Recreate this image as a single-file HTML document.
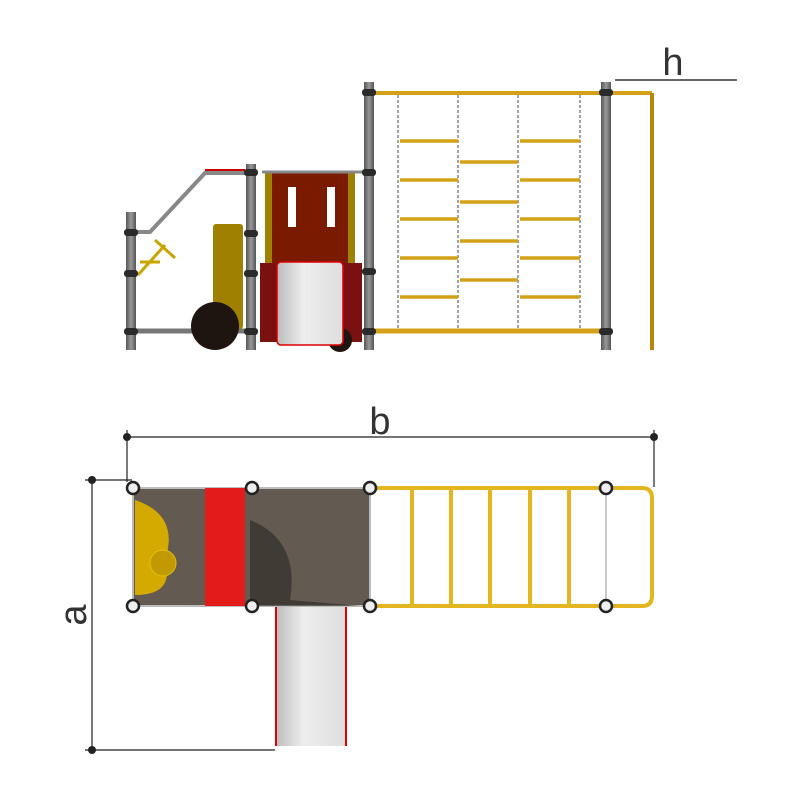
<!DOCTYPE html>
<html><head><meta charset="utf-8"><style>body{margin:0;background:#fff}svg{display:block}</style></head><body>
<svg width="800" height="800" viewBox="0 0 800 800" xmlns="http://www.w3.org/2000/svg" font-family="Liberation Sans, sans-serif">
<defs>
<linearGradient id="post" x1="0" x2="1"><stop offset="0" stop-color="#555"/><stop offset=".5" stop-color="#999"/><stop offset="1" stop-color="#555"/></linearGradient>
<linearGradient id="slide" x1="0" x2="1"><stop offset="0" stop-color="#bbb"/><stop offset=".4" stop-color="#eee"/><stop offset="1" stop-color="#ddd"/></linearGradient>
</defs>
<!-- TOP VIEW -->
<line x1="615" y1="80" x2="737" y2="80" stroke="#333" stroke-width="1.5"/>
<text x="673" y="75" font-size="38" text-anchor="middle" fill="#333">h</text>
<!-- right frame -->
<line x1="370" y1="93" x2="652" y2="93" stroke="#d4a017" stroke-width="4"/>
<line x1="652" y1="93" x2="652" y2="350" stroke="#b8860b" stroke-width="4"/>
<line x1="375" y1="331" x2="606" y2="331" stroke="#d4a017" stroke-width="5"/>
<g stroke="#444" stroke-width="1" stroke-dasharray="3,2">
<line x1="398" y1="95" x2="398" y2="330"/><line x1="458" y1="95" x2="458" y2="330"/><line x1="518" y1="95" x2="518" y2="330"/><line x1="580" y1="95" x2="580" y2="330"/></g>
<g stroke="#d4a017" stroke-width="3.5">
<line x1="400" y1="141" x2="458" y2="141"/><line x1="400" y1="180" x2="458" y2="180"/><line x1="400" y1="219" x2="458" y2="219"/><line x1="400" y1="258" x2="458" y2="258"/><line x1="400" y1="297" x2="458" y2="297"/>
<line x1="460" y1="162" x2="518" y2="162"/><line x1="460" y1="202" x2="518" y2="202"/><line x1="460" y1="241" x2="518" y2="241"/><line x1="460" y1="280" x2="518" y2="280"/>
<line x1="520" y1="141" x2="580" y2="141"/><line x1="520" y1="180" x2="580" y2="180"/><line x1="520" y1="219" x2="580" y2="219"/><line x1="520" y1="258" x2="580" y2="258"/><line x1="520" y1="297" x2="580" y2="297"/></g>
<!-- left part -->
<polyline points="131,232 150,232 205,173 245,173" fill="none" stroke="#888" stroke-width="4"/>
<line x1="205" y1="170" x2="245" y2="170" stroke="#c00" stroke-width="2"/>
<line x1="131" y1="331" x2="251" y2="331" stroke="#777" stroke-width="5"/>
<line x1="138" y1="275" x2="165" y2="245" stroke="#c9a500" stroke-width="3"/><line x1="155" y1="240" x2="175" y2="258" stroke="#c9a500" stroke-width="3"/><line x1="140" y1="262" x2="160" y2="262" stroke="#c9a500" stroke-width="3"/>
<rect x="213" y="224" width="30" height="105" rx="3" fill="#a08000"/>
<circle cx="215" cy="326" r="24" fill="#1e1410"/>
<rect x="265" y="172" width="90" height="95" fill="#a08000"/>
<rect x="272" y="172" width="76" height="95" fill="#7a1a00"/>
<rect x="288" y="187" width="8" height="40" fill="#fff"/><rect x="327" y="187" width="8" height="40" fill="#fff"/>
<rect x="260" y="263" width="102" height="79" fill="#7a1010"/>
<circle cx="340" cy="340" r="12" fill="#1e1410"/>
<rect x="277" y="262" width="66" height="83" rx="4" fill="url(#slide)" stroke="#d00" stroke-width="1.5"/>
<line x1="262" y1="172" x2="370" y2="172" stroke="#888" stroke-width="3"/>
<!-- posts -->
<g fill="url(#post)">
<rect x="126" y="212" width="10" height="138"/><rect x="246" y="164" width="10" height="186"/><rect x="364" y="82" width="10" height="268"/><rect x="601" y="82" width="10" height="268"/></g>
<g fill="#2a2a2a">
<rect x="124" y="229" width="14" height="7" rx="3"/><rect x="124" y="270" width="14" height="7" rx="3"/><rect x="124" y="328" width="14" height="7" rx="3"/>
<rect x="244" y="169" width="14" height="7" rx="3"/><rect x="244" y="230" width="14" height="7" rx="3"/><rect x="244" y="270" width="14" height="7" rx="3"/><rect x="244" y="328" width="14" height="7" rx="3"/>
<rect x="362" y="89" width="14" height="7" rx="3"/><rect x="362" y="169" width="14" height="7" rx="3"/><rect x="362" y="268" width="14" height="7" rx="3"/><rect x="362" y="328" width="14" height="7" rx="3"/>
<rect x="599" y="89" width="14" height="7" rx="3"/><rect x="599" y="328" width="14" height="7" rx="3"/></g>
<!-- PLAN VIEW -->
<g stroke="#222" stroke-width="1.2">
<line x1="127" y1="437" x2="654" y2="437"/><line x1="127" y1="430" x2="127" y2="482"/><line x1="654" y1="430" x2="654" y2="487"/>
<line x1="92" y1="480" x2="92" y2="750"/><line x1="85" y1="480" x2="132" y2="480"/><line x1="85" y1="750" x2="275" y2="750"/></g>
<g fill="#222"><circle cx="127" cy="437" r="4"/><circle cx="654" cy="437" r="4"/><circle cx="92" cy="480" r="4"/><circle cx="92" cy="750" r="4"/></g>
<text x="380" y="434" font-size="38" text-anchor="middle" fill="#333">b</text>
<text transform="translate(86,615) rotate(-90)" font-size="38" text-anchor="middle" fill="#333">a</text>
<rect x="275" y="606" width="72" height="140" fill="url(#slide)"/>
<line x1="276" y1="606" x2="276" y2="746" stroke="#d00" stroke-width="2"/><line x1="346" y1="606" x2="346" y2="746" stroke="#d00" stroke-width="2"/>
<rect x="133" y="488" width="237" height="118" fill="#635a52" stroke="#bbb" stroke-width="2"/>
<path d="M135,500 Q180,515 165,560 Q175,595 135,595 Z" fill="#d4aa00"/>
<circle cx="163" cy="563" r="13" fill="#c09a00" stroke="#e8c000"/>
<path d="M250,520 Q300,540 290,600 L360,606 L250,606 Z" fill="#2a2622" opacity=".6"/>
<rect x="205" y="488" width="40" height="118" fill="#e31b1b"/>
<g stroke="#e3b620" stroke-width="4" fill="none">
<line x1="372" y1="488" x2="606" y2="488"/><line x1="372" y1="606" x2="606" y2="606"/>
<path d="M606,488 L642,488 Q652,488 652,498 L652,596 Q652,606 642,606 L606,606"/>
<line x1="412" y1="488" x2="412" y2="606"/><line x1="451" y1="488" x2="451" y2="606"/><line x1="490" y1="488" x2="490" y2="606"/><line x1="530" y1="488" x2="530" y2="606"/><line x1="569" y1="488" x2="569" y2="606"/></g>
<line x1="606" y1="488" x2="606" y2="606" stroke="#ccc" stroke-width="2"/>
<g fill="#eee" stroke="#222" stroke-width="2.5">
<circle cx="133" cy="488" r="6"/><circle cx="252" cy="488" r="6"/><circle cx="370" cy="488" r="6"/><circle cx="606" cy="488" r="6"/>
<circle cx="133" cy="606" r="6"/><circle cx="252" cy="606" r="6"/><circle cx="370" cy="606" r="6"/><circle cx="606" cy="606" r="6"/></g>
</svg>
</body></html>
